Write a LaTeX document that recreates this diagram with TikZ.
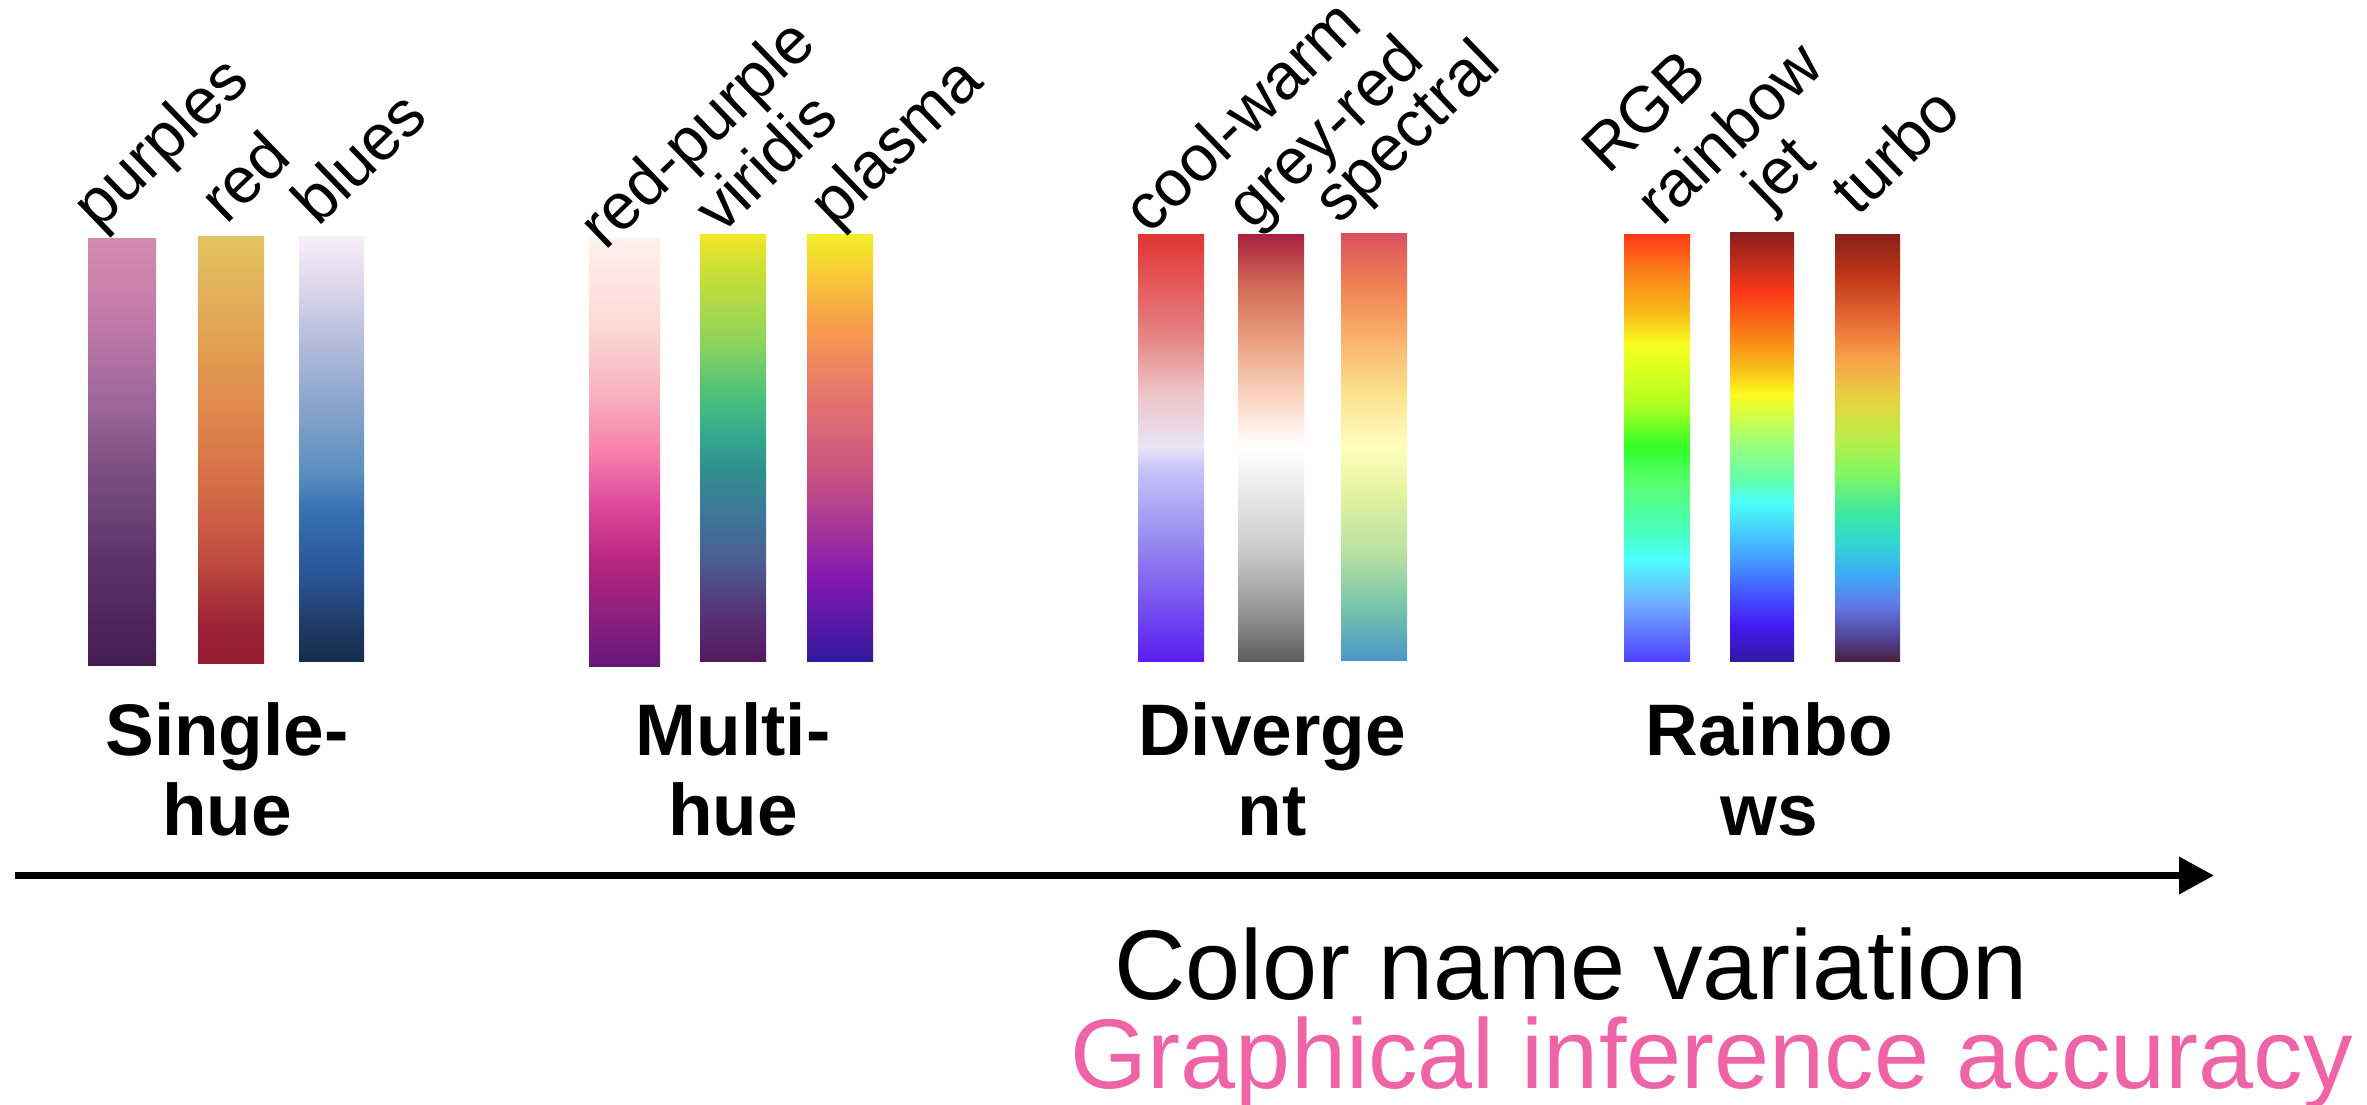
\documentclass[tikz,border=0pt]{standalone}
\usepackage{fontspec}
\setmainfont{Liberation Sans}
\usetikzlibrary{arrows.meta}
% purples
\definecolor{puA}{HTML}{D48CAE}\definecolor{puB}{HTML}{C07AAA}\definecolor{puC}{HTML}{9A6598}
\definecolor{puD}{HTML}{7A4E80}\definecolor{puE}{HTML}{5E3468}\definecolor{puF}{HTML}{431C50}
% red
\definecolor{reA}{HTML}{E2C462}\definecolor{reB}{HTML}{E2A052}\definecolor{reC}{HTML}{E08A4E}
\definecolor{reD}{HTML}{D46A46}\definecolor{reE}{HTML}{C04E40}\definecolor{reF}{HTML}{9E2636}\definecolor{reG}{HTML}{951A33}
% blues
\definecolor{blA}{HTML}{F8F0F8}\definecolor{blB}{HTML}{D4D0E6}\definecolor{blC}{HTML}{B4BCDC}
\definecolor{blD}{HTML}{8AA4CC}\definecolor{blE}{HTML}{5C90C0}\definecolor{blF}{HTML}{3670B4}
\definecolor{blG}{HTML}{2A5496}\definecolor{blH}{HTML}{1E3A66}\definecolor{blI}{HTML}{182C4C}
% red-purple
\definecolor{rpA}{HTML}{FFF2EE}\definecolor{rpB}{HTML}{FDDAD4}\definecolor{rpC}{HTML}{F8B0C0}
\definecolor{rpD}{HTML}{F87EAA}\definecolor{rpE}{HTML}{E04A9E}\definecolor{rpF}{HTML}{B8267E}
\definecolor{rpG}{HTML}{902080}\definecolor{rpH}{HTML}{661878}
% viridis
\definecolor{viA}{HTML}{F4E628}\definecolor{viB}{HTML}{CCE034}\definecolor{viC}{HTML}{8ED45C}
\definecolor{viD}{HTML}{4CC07C}\definecolor{viE}{HTML}{34AA8E}\definecolor{viF}{HTML}{30908E}
\definecolor{viG}{HTML}{3E7898}\definecolor{viH}{HTML}{4C5C90}\definecolor{viI}{HTML}{582F74}\definecolor{viJ}{HTML}{541A5E}
% plasma
\definecolor{plA}{HTML}{F0F028}\definecolor{plB}{HTML}{FAC83A}\definecolor{plC}{HTML}{F8A048}
\definecolor{plD}{HTML}{F08860}\definecolor{plE}{HTML}{E27070}\definecolor{plF}{HTML}{CC5680}
\definecolor{plG}{HTML}{A83898}\definecolor{plH}{HTML}{8418B0}\definecolor{plI}{HTML}{5C18A8}\definecolor{plJ}{HTML}{30189A}
% cool-warm
\definecolor{cwA}{HTML}{E03434}\definecolor{cwB}{HTML}{E45454}\definecolor{cwC}{HTML}{E68888}
\definecolor{cwD}{HTML}{EEC4C8}\definecolor{cwE}{HTML}{E8E4F6}\definecolor{cwF}{HTML}{C8C4FA}
\definecolor{cwG}{HTML}{9C90F0}\definecolor{cwH}{HTML}{7A58F0}\definecolor{cwI}{HTML}{5A1EF0}
% grey-red
\definecolor{grA}{HTML}{A82040}\definecolor{grB}{HTML}{D06A56}\definecolor{grC}{HTML}{EAA080}
\definecolor{grD}{HTML}{FAD0BC}\definecolor{grE}{HTML}{FFFFFF}\definecolor{grF}{HTML}{EAEAEA}
\definecolor{grG}{HTML}{C8C8C8}\definecolor{grH}{HTML}{8E8E8E}\definecolor{grI}{HTML}{5C5C5C}
% spectral
\definecolor{spA}{HTML}{DA5060}\definecolor{spB}{HTML}{F08055}\definecolor{spC}{HTML}{F8A864}
\definecolor{spD}{HTML}{FCE08C}\definecolor{spE}{HTML}{FEFEC0}\definecolor{spF}{HTML}{E6F4A0}
\definecolor{spG}{HTML}{B8E0A2}\definecolor{spH}{HTML}{78C6AA}\definecolor{spI}{HTML}{4C96C8}
% RGB rainbow
\definecolor{rbA}{HTML}{FF3818}\definecolor{rbB}{HTML}{FC7A18}\definecolor{rbC}{HTML}{F8B818}
\definecolor{rbD}{HTML}{F8FF20}\definecolor{rbE}{HTML}{B0FF20}\definecolor{rbF}{HTML}{30FF28}
\definecolor{rbG}{HTML}{58FF70}\definecolor{rbH}{HTML}{48FFC0}\definecolor{rbI}{HTML}{4CFFFF}
\definecolor{rbJ}{HTML}{70B0FF}\definecolor{rbK}{HTML}{5040FF}
% jet
\definecolor{jeA}{HTML}{8A1E1E}\definecolor{jeB}{HTML}{C02C1C}\definecolor{jeC}{HTML}{FC3818}
\definecolor{jeD}{HTML}{FA8018}\definecolor{jeE}{HTML}{F8C018}\definecolor{jeF}{HTML}{FCFC20}
\definecolor{jeG}{HTML}{A8FF70}\definecolor{jeH}{HTML}{60FFB0}\definecolor{jeI}{HTML}{4CFFF8}
\definecolor{jeJ}{HTML}{44B0FF}\definecolor{jeK}{HTML}{4450FF}\definecolor{jeL}{HTML}{4418F0}\definecolor{jeM}{HTML}{3418A0}
% turbo
\definecolor{tuA}{HTML}{882018}\definecolor{tuB}{HTML}{C03818}\definecolor{tuC}{HTML}{E86A34}
\definecolor{tuD}{HTML}{F8A048}\definecolor{tuE}{HTML}{E8D040}\definecolor{tuF}{HTML}{C0EC48}
\definecolor{tuG}{HTML}{80F860}\definecolor{tuH}{HTML}{40E8A0}\definecolor{tuI}{HTML}{30D8D0}
\definecolor{tuJ}{HTML}{40A8F8}\definecolor{tuK}{HTML}{6078E8}\definecolor{tuL}{HTML}{504090}\definecolor{tuM}{HTML}{48203C}
\definecolor{pinkacc}{HTML}{EF63A7}
% shadings: 25bp = bottom, 75bp = top
\pgfdeclareverticalshading{shpurples}{100bp}{color(0bp)=(puF);color(25bp)=(puF);color(37.5bp)=(puE);color(47.5bp)=(puD);color(55bp)=(puC);color(65bp)=(puB);color(75bp)=(puA);color(100bp)=(puA)}
\pgfdeclareverticalshading{shred}{100bp}{color(0bp)=(reG);color(25bp)=(reG);color(30bp)=(reF);color(37.5bp)=(reE);color(45bp)=(reD);color(55bp)=(reC);color(62.5bp)=(reB);color(75bp)=(reA);color(100bp)=(reA)}
\pgfdeclareverticalshading{shblues}{100bp}{color(0bp)=(blI);color(25bp)=(blI);color(29bp)=(blH);color(35bp)=(blG);color(42.5bp)=(blF);color(47.5bp)=(blE);color(55bp)=(blD);color(62.5bp)=(blC);color(67.5bp)=(blB);color(75bp)=(blA);color(100bp)=(blA)}
\pgfdeclareverticalshading{shredpurple}{100bp}{color(0bp)=(rpH);color(25bp)=(rpH);color(31.5bp)=(rpG);color(37.5bp)=(rpF);color(44bp)=(rpE);color(50bp)=(rpD);color(56.5bp)=(rpC);color(65bp)=(rpB);color(75bp)=(rpA);color(100bp)=(rpA)}
\pgfdeclareverticalshading{shviridis}{100bp}{color(0bp)=(viJ);color(25bp)=(viJ);color(30bp)=(viI);color(36.5bp)=(viH);color(42.5bp)=(viG);color(47.5bp)=(viF);color(51.5bp)=(viE);color(56bp)=(viD);color(62.5bp)=(viC);color(71bp)=(viB);color(75bp)=(viA);color(100bp)=(viA)}
\pgfdeclareverticalshading{shplasma}{100bp}{color(0bp)=(plJ);color(25bp)=(plJ);color(30bp)=(plI);color(35bp)=(plH);color(41bp)=(plG);color(47.5bp)=(plF);color(55bp)=(plE);color(60bp)=(plD);color(65bp)=(plC);color(70bp)=(plB);color(75bp)=(plA);color(100bp)=(plA)}
\pgfdeclareverticalshading{shcoolwarm}{100bp}{color(0bp)=(cwI);color(25bp)=(cwI);color(32.5bp)=(cwH);color(40bp)=(cwG);color(47.5bp)=(cwF);color(50bp)=(cwE);color(56.5bp)=(cwD);color(62.5bp)=(cwC);color(70bp)=(cwB);color(75bp)=(cwA);color(100bp)=(cwA)}
\pgfdeclareverticalshading{shgreyred}{100bp}{color(0bp)=(grI);color(25bp)=(grI);color(30bp)=(grH);color(37.5bp)=(grG);color(45bp)=(grF);color(50bp)=(grE);color(56.5bp)=(grD);color(62.5bp)=(grC);color(69bp)=(grB);color(75bp)=(grA);color(100bp)=(grA)}
\pgfdeclareverticalshading{shspectral}{100bp}{color(0bp)=(spI);color(25bp)=(spI);color(31.5bp)=(spH);color(37.5bp)=(spG);color(45bp)=(spF);color(50bp)=(spE);color(56.5bp)=(spD);color(64bp)=(spC);color(69bp)=(spB);color(75bp)=(spA);color(100bp)=(spA)}
\pgfdeclareverticalshading{shrgb}{100bp}{color(0bp)=(rbK);color(25bp)=(rbK);color(32bp)=(rbJ);color(37bp)=(rbI);color(40bp)=(rbH);color(46bp)=(rbG);color(50bp)=(rbF);color(55bp)=(rbE);color(62bp)=(rbD);color(66bp)=(rbC);color(71bp)=(rbB);color(75bp)=(rbA);color(100bp)=(rbA)}
\pgfdeclareverticalshading{shjet}{100bp}{color(0bp)=(jeM);color(25bp)=(jeM);color(29bp)=(jeL);color(32.5bp)=(jeK);color(38bp)=(jeJ);color(43.5bp)=(jeI);color(46bp)=(jeH);color(51bp)=(jeG);color(56bp)=(jeF);color(59bp)=(jeE);color(63bp)=(jeD);color(68bp)=(jeC);color(71.5bp)=(jeB);color(75bp)=(jeA);color(100bp)=(jeA)}
\pgfdeclareverticalshading{shturbo}{100bp}{color(0bp)=(tuM);color(25bp)=(tuM);color(27.5bp)=(tuL);color(31.5bp)=(tuK);color(35bp)=(tuJ);color(39bp)=(tuI);color(42.5bp)=(tuH);color(47bp)=(tuG);color(51.5bp)=(tuF);color(56bp)=(tuE);color(60.5bp)=(tuD);color(65bp)=(tuC);color(70bp)=(tuB);color(75bp)=(tuA);color(100bp)=(tuA)}
\begin{document}
\begin{tikzpicture}[x=1pt,y=-1pt,
  maplabel/.style={anchor=base west,rotate=44,inner sep=0pt,font=\fontsize{65}{78}\selectfont},
  catlabel/.style={anchor=base,inner sep=0pt,align=center,font=\fontsize{73}{80}\selectfont\bfseries},
  axislabel/.style={anchor=base,inner sep=0pt,font=\fontsize{99}{110}\selectfont}]
\useasboundingbox[fill=white] (0,0) rectangle (2367,1104);
% bars
\shade[shading=shpurples]   (88,238)  rectangle (156,665);
\shade[shading=shred]       (198,236) rectangle (264,663);
\shade[shading=shblues]     (299,236) rectangle (364,661);
\shade[shading=shredpurple] (589,238) rectangle (660,666);
\shade[shading=shviridis]   (700,234) rectangle (766,661);
\shade[shading=shplasma]    (807,234) rectangle (873,661);
\shade[shading=shcoolwarm]  (1138,234) rectangle (1204,661);
\shade[shading=shgreyred]   (1238,234) rectangle (1304,661);
\shade[shading=shspectral]  (1341,233) rectangle (1407,660);
\shade[shading=shrgb]       (1624,234) rectangle (1690,661);
\shade[shading=shjet]       (1730,232) rectangle (1794,661);
\shade[shading=shturbo]     (1835,234) rectangle (1900,661);
% colormap names
\node[maplabel] (lpurples) at (98,232) {purples};
\node[maplabel] (lred) at (226,226) {red};
\node[maplabel] (lblues) at (318,228) {blues};
\node[maplabel] (lredpurple) at (605,252) {red-purple};
\node[maplabel] (lviridis) at (721,236) {viridis};
\node[maplabel] (lplasma) at (835,230) {plasma};
\node[maplabel] (lcoolwarm) at (1149,236) {cool-warm};
\node[maplabel] (lgreyred) at (1252,232) {grey-red};
\node[maplabel] (lspectral) at (1339,226) {spectral};
\node[maplabel] (lrgb) at (1608,176) {RGB};
\node[maplabel] (lrainbow) at (1662,228) {rainbow};
\node[maplabel] (ljet) at (1769,212) {jet};
\node[maplabel] (lturbo) at (1857,218) {turbo};
% categories
\node[catlabel] (csingle) at (227,835) {Single-\\hue};
\node[catlabel] (cmulti) at (733,835) {Multi-\\hue};
\node[catlabel] (cdiv) at (1272,835) {Diverge\\nt};
\node[catlabel] (crain) at (1769,835) {Rainbo\\ws};
% axis
\coordinate (astart) at (15,875.5);
\coordinate (aend) at (2214,875.5);
\draw[line width=7pt,-{Triangle[length=35pt,width=36pt]}] (astart) -- (aend);
\node[axislabel] (xname) at (1571,999) {Color name variation};
\node[axislabel,text=pinkacc] (xacc) at (1712,1088) {Graphical inference accuracy};
\end{tikzpicture}
\end{document}
